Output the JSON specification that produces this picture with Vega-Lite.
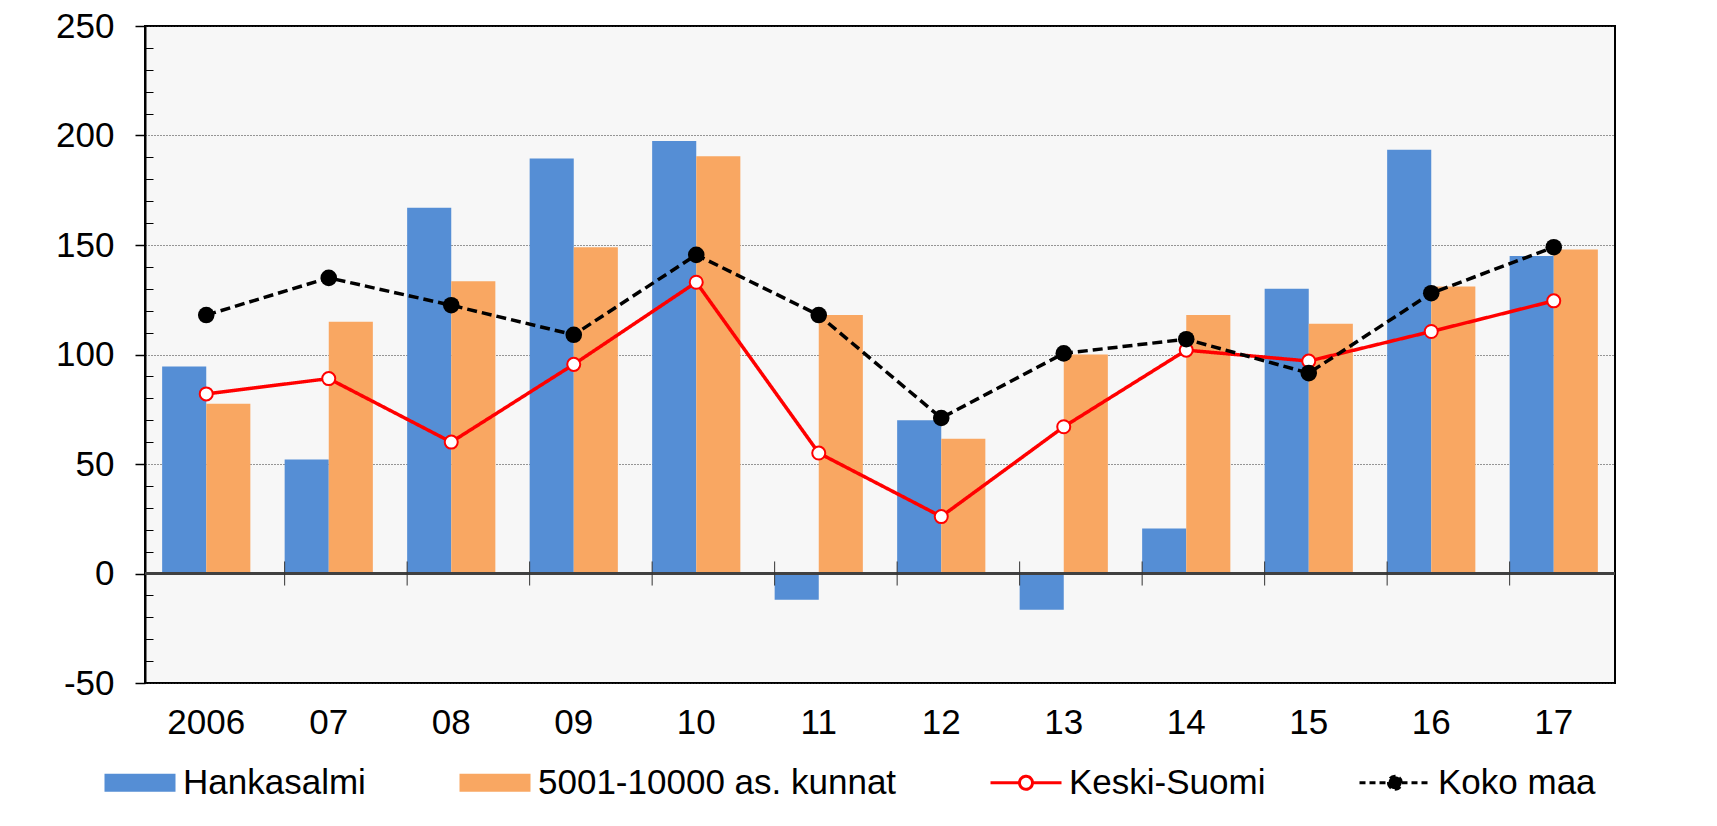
{
  "$schema": "https://vega.github.io/schema/vega-lite/v6.json",
  "width": 1470,
  "height": 657,
  "autosize": {"type": "none"},
  "padding": {"left": 145, "top": 26, "right": 102, "bottom": 143},
  "background": "white",
  "config": {
    "view": {"fill": "#f7f7f7", "stroke": "#000000", "strokeWidth": 2},
    "font": "Liberation Sans",
    "axis": {"labelFont": "Liberation Sans", "labelColor": "#000000"},
    "legend": {"labelFont": "Liberation Sans"}
  },
  "datasets": {
    "d": [
      {"year": "2006", "series": "Hankasalmi", "value": 94.5},
      {"year": "07", "series": "Hankasalmi", "value": 52},
      {"year": "08", "series": "Hankasalmi", "value": 167},
      {"year": "09", "series": "Hankasalmi", "value": 189.5},
      {"year": "10", "series": "Hankasalmi", "value": 197.5},
      {"year": "11", "series": "Hankasalmi", "value": -12},
      {"year": "12", "series": "Hankasalmi", "value": 70},
      {"year": "13", "series": "Hankasalmi", "value": -16.5},
      {"year": "14", "series": "Hankasalmi", "value": 20.5},
      {"year": "15", "series": "Hankasalmi", "value": 130},
      {"year": "16", "series": "Hankasalmi", "value": 193.5},
      {"year": "17", "series": "Hankasalmi", "value": 145},
      {"year": "2006", "series": "5001-10000 as. kunnat", "value": 77.5},
      {"year": "07", "series": "5001-10000 as. kunnat", "value": 115},
      {"year": "08", "series": "5001-10000 as. kunnat", "value": 133.5},
      {"year": "09", "series": "5001-10000 as. kunnat", "value": 149},
      {"year": "10", "series": "5001-10000 as. kunnat", "value": 190.5},
      {"year": "11", "series": "5001-10000 as. kunnat", "value": 118},
      {"year": "12", "series": "5001-10000 as. kunnat", "value": 61.5},
      {"year": "13", "series": "5001-10000 as. kunnat", "value": 100},
      {"year": "14", "series": "5001-10000 as. kunnat", "value": 118},
      {"year": "15", "series": "5001-10000 as. kunnat", "value": 114},
      {"year": "16", "series": "5001-10000 as. kunnat", "value": 131},
      {"year": "17", "series": "5001-10000 as. kunnat", "value": 148},
      {"year": "2006", "series": "Keski-Suomi", "value": 82},
      {"year": "07", "series": "Keski-Suomi", "value": 89},
      {"year": "08", "series": "Keski-Suomi", "value": 60},
      {"year": "09", "series": "Keski-Suomi", "value": 95.5},
      {"year": "10", "series": "Keski-Suomi", "value": 133},
      {"year": "11", "series": "Keski-Suomi", "value": 55},
      {"year": "12", "series": "Keski-Suomi", "value": 26},
      {"year": "13", "series": "Keski-Suomi", "value": 67},
      {"year": "14", "series": "Keski-Suomi", "value": 102},
      {"year": "15", "series": "Keski-Suomi", "value": 97},
      {"year": "16", "series": "Keski-Suomi", "value": 110.5},
      {"year": "17", "series": "Keski-Suomi", "value": 124.5},
      {"year": "2006", "series": "Koko maa", "value": 118},
      {"year": "07", "series": "Koko maa", "value": 135},
      {"year": "08", "series": "Koko maa", "value": 122.5},
      {"year": "09", "series": "Koko maa", "value": 109},
      {"year": "10", "series": "Koko maa", "value": 145.5},
      {"year": "11", "series": "Koko maa", "value": 118},
      {"year": "12", "series": "Koko maa", "value": 71},
      {"year": "13", "series": "Koko maa", "value": 100.5},
      {"year": "14", "series": "Koko maa", "value": 107},
      {"year": "15", "series": "Koko maa", "value": 91.5},
      {"year": "16", "series": "Koko maa", "value": 128},
      {"year": "17", "series": "Koko maa", "value": 149}
    ]
  },
  "data": {"name": "d"},
  "resolve": {"axis": {"y": "independent"}},
  "layer": [
    {
      "transform": [{"filter": "datum.series === 'Hankasalmi' || datum.series === '5001-10000 as. kunnat'"}],
      "mark": {"type": "bar"},
      "encoding": {
        "x": {
          "field": "year", "type": "nominal",
          "sort": ["2006", "07", "08", "09", "10", "11", "12", "13", "14", "15", "16", "17"],
          "scale": {"paddingInner": 0.28, "paddingOuter": 0.14},
          "axis": {"title": null, "ticks": false, "domain": false, "grid": false, "labelAngle": 0, "labelFontSize": 35, "labelPadding": 22, "labelColor": "#000000"}
        },
        "xOffset": {"field": "series", "type": "nominal", "sort": ["Hankasalmi", "5001-10000 as. kunnat"]},
        "y": {
          "field": "value", "type": "quantitative",
          "scale": {"domain": [-50, 250], "nice": false, "zero": false},
          "axis": {"title": null, "values": [-50, 0, 50, 100, 150, 200, 250], "labelExpr": "replace(datum.label, '\u2212', '-')", "grid": true, "gridDash": [1, 2], "gridColor": "#333333", "gridWidth": 1, "domain": true, "domainColor": "#000000", "domainWidth": 2, "tickSize": 10, "tickColor": "#000000", "tickWidth": 1.5, "labelFontSize": 35, "labelPadding": 21, "labelColor": "#000000"}
        },
        "fill": {
          "field": "series", "type": "nominal",
          "scale": {
            "domain": ["Hankasalmi", "5001-10000 as. kunnat", "Keski-Suomi", "Koko maa"],
            "range": ["#558ED5", "#F9A762", "#FFFFFF", "#000000"]
          },
          "legend": {
            "title": null, "orient": "none", "legendX": -48, "legendY": 739,
            "direction": "horizontal", "columns": 4, "columnPadding": 86,
            "labelFontSize": 35, "labelColor": "#000000", "labelLimit": 0, "labelOffset": 51,
            "symbolSize": 400, "padding": 0,
            "encode": {
              "symbols": {
                "update": {
                  "shape": {"signal": "(datum.value === 'Hankasalmi' || datum.value === '5001-10000 as. kunnat') ? 'M-1,-0.9H6.1V0.9H-1Z' : 'M-1,0H1.9M3.2,0H6.1M1.9,0A0.65,0.65 0 1 0 3.2,0A0.65,0.65 0 1 0 1.9,0Z'"},
                  "strokeWidth": {"signal": "(datum.value === 'Keski-Suomi' || datum.value === 'Koko maa') ? 3 : 0"},
                  "strokeDash": {"signal": "datum.value === 'Koko maa' ? [6, 4] : [1, 0]"},
                  "opacity": {"value": 1},
                  "fillOpacity": {"value": 1},
                  "strokeOpacity": {"value": 1}
                }
              }
            }
          }
        }
      }
    },
    {
      "mark": {"type": "rule", "color": "#404040", "strokeWidth": 1.5},
      "encoding": {
        "y": {
          "datum": 0, "type": "quantitative",
          "axis": {"orient": "left", "values": [-40, -30, -20, -10, 10, 20, 30, 40, 60, 70, 80, 90, 110, 120, 130, 140, 160, 170, 180, 190, 210, 220, 230, 240], "labels": false, "domain": false, "grid": false, "tickSize": -8, "tickColor": "#000000", "tickWidth": 1, "title": null}
        }
      }
    },
    {
      "transform": [{"filter": "datum.series === 'Hankasalmi' && datum.year !== '2006'"}],
      "mark": {"type": "rule", "color": "#333333", "strokeWidth": 1},
      "encoding": {
        "x": {"field": "year", "type": "nominal", "sort": ["2006", "07", "08", "09", "10", "11", "12", "13", "14", "15", "16", "17"], "bandPosition": 0},
        "y": {"datum": -5.5, "type": "quantitative", "axis": null},
        "y2": {"datum": 5.5}
      }
    },
    {
      "transform": [{"filter": "datum.series === 'Keski-Suomi' || datum.series === 'Koko maa'"}],
      "mark": {"type": "line", "strokeWidth": 3.5},
      "encoding": {
        "x": {"field": "year", "type": "nominal", "sort": ["2006", "07", "08", "09", "10", "11", "12", "13", "14", "15", "16", "17"]},
        "y": {"field": "value", "type": "quantitative", "axis": null},
        "stroke": {
          "field": "series", "type": "nominal",
          "scale": {
            "domain": ["Hankasalmi", "5001-10000 as. kunnat", "Keski-Suomi", "Koko maa"],
            "range": ["transparent", "transparent", "#FF0000", "#000000"]
          },
          "legend": {
            "title": null, "orient": "none", "legendX": -48, "legendY": 739,
            "direction": "horizontal", "columns": 4, "columnPadding": 86,
            "labelFontSize": 35, "labelColor": "#000000", "labelLimit": 0, "labelOffset": 51,
            "symbolSize": 400, "padding": 0
          }
        },
        "strokeDash": {
          "field": "series", "type": "nominal",
          "scale": {"domain": ["Keski-Suomi", "Koko maa"], "range": [[1, 0], [10, 5]]},
          "legend": null
        }
      }
    },
    {
      "transform": [{"filter": "datum.series === 'Keski-Suomi'"}],
      "mark": {"type": "point", "shape": "circle", "filled": false, "fill": "#FFFFFF", "fillOpacity": 1, "stroke": "#FF0000", "strokeWidth": 2, "size": 170, "opacity": 1},
      "encoding": {
        "x": {"field": "year", "type": "nominal", "sort": ["2006", "07", "08", "09", "10", "11", "12", "13", "14", "15", "16", "17"]},
        "y": {"field": "value", "type": "quantitative", "axis": null}
      }
    },
    {
      "transform": [{"filter": "datum.series === 'Koko maa'"}],
      "mark": {"type": "point", "shape": "circle", "filled": true, "fill": "#000000", "size": 275, "opacity": 1},
      "encoding": {
        "x": {"field": "year", "type": "nominal", "sort": ["2006", "07", "08", "09", "10", "11", "12", "13", "14", "15", "16", "17"]},
        "y": {"field": "value", "type": "quantitative", "axis": null}
      }
    }
  ]
}
